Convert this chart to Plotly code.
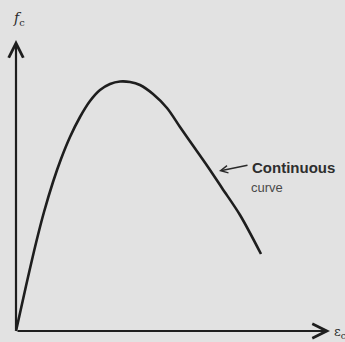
import plotly.graph_objects as go

# stress-strain curve (arbitrary units)
strain = [0.00, 0.10, 0.20, 0.28, 0.37, 0.45, 0.54, 0.64, 0.74, 0.84, 0.94, 1.04,
          1.14, 1.24, 1.37, 1.51, 1.64, 1.78, 1.92, 2.06, 2.24, 2.45]
stress = [0.00, 0.45, 0.88, 1.19, 1.49, 1.72, 1.94, 2.14, 2.30, 2.41, 2.47, 2.495,
          2.49, 2.46, 2.37, 2.23, 2.04, 1.84, 1.64, 1.43, 1.16, 0.77]

x_axis_end = 3.14
y_axis_end = 2.91
curve_label = "Continuous"
curve_sub = "curve"
y_label = "<i>f</i><sub>c</sub>"
x_label = "ε<sub>c</sub>"

fig = go.Figure()
fig.add_trace(go.Scatter(x=strain, y=stress, mode="lines",
                         line=dict(color="#1e1e1e", width=2.6, shape="spline", smoothing=0.9),
                         hoverinfo="skip", showlegend=False))

ann = []
# axes as arrows
ann.append(dict(x=x_axis_end, y=0, ax=0, ay=0, xref="x", yref="y", axref="x", ayref="y",
                text="", showarrow=True, arrowhead=5, arrowsize=1.3, arrowwidth=2.2,
                arrowcolor="#1e1e1e", standoff=0, startstandoff=0))
ann.append(dict(x=0, y=y_axis_end, ax=0, ay=0, xref="x", yref="y", axref="x", ayref="y",
                text="", showarrow=True, arrowhead=5, arrowsize=1.3, arrowwidth=2.2,
                arrowcolor="#1e1e1e", standoff=0, startstandoff=0))
# label arrow
ann.append(dict(x=2.03, y=1.60, ax=2.33, ay=1.66, xref="x", yref="y", axref="x", ayref="y",
                text="", showarrow=True, arrowhead=5, arrowsize=0.9, arrowwidth=1.6,
                arrowcolor="#2a2a2a", standoff=0))
ann.append(dict(x=2.34, y=1.64, xref="x", yref="y", text="<b>" + curve_label + "</b>",
                showarrow=False, xanchor="left", yanchor="middle",
                font=dict(family="Liberation Sans, Arial", size=15, color="#2e2e2e")))
ann.append(dict(x=2.33, y=1.44, xref="x", yref="y", text=curve_sub, showarrow=False,
                xanchor="left", yanchor="middle",
                font=dict(family="Liberation Sans, Arial", size=13, color="#4a4a4a")))
ann.append(dict(x=0.03, y=3.12, xref="x", yref="y", text=y_label, showarrow=False,
                xanchor="center", yanchor="middle",
                font=dict(family="DejaVu Serif", size=14, color="#2a2a2a")))
ann.append(dict(x=3.16, y=-0.01, xref="x", yref="y", text=x_label, showarrow=False,
                xanchor="left", yanchor="middle",
                font=dict(family="DejaVu Serif", size=13, color="#2a2a2a")))

fig.update_layout(
    width=345, height=342,
    margin=dict(l=0, r=0, t=0, b=0),
    paper_bgcolor="#e2e2e2", plot_bgcolor="#e2e2e2",
    xaxis=dict(range=[-0.16, 3.29], visible=False, fixedrange=True),
    yaxis=dict(range=[-0.11, 3.31], visible=False, fixedrange=True),
    annotations=ann,
    showlegend=False,
)
fig.write_html("out.html", config={"displayModeBar": False},
               post_script="document.body.style.margin='0';document.body.style.background='#e2e2e2';")
